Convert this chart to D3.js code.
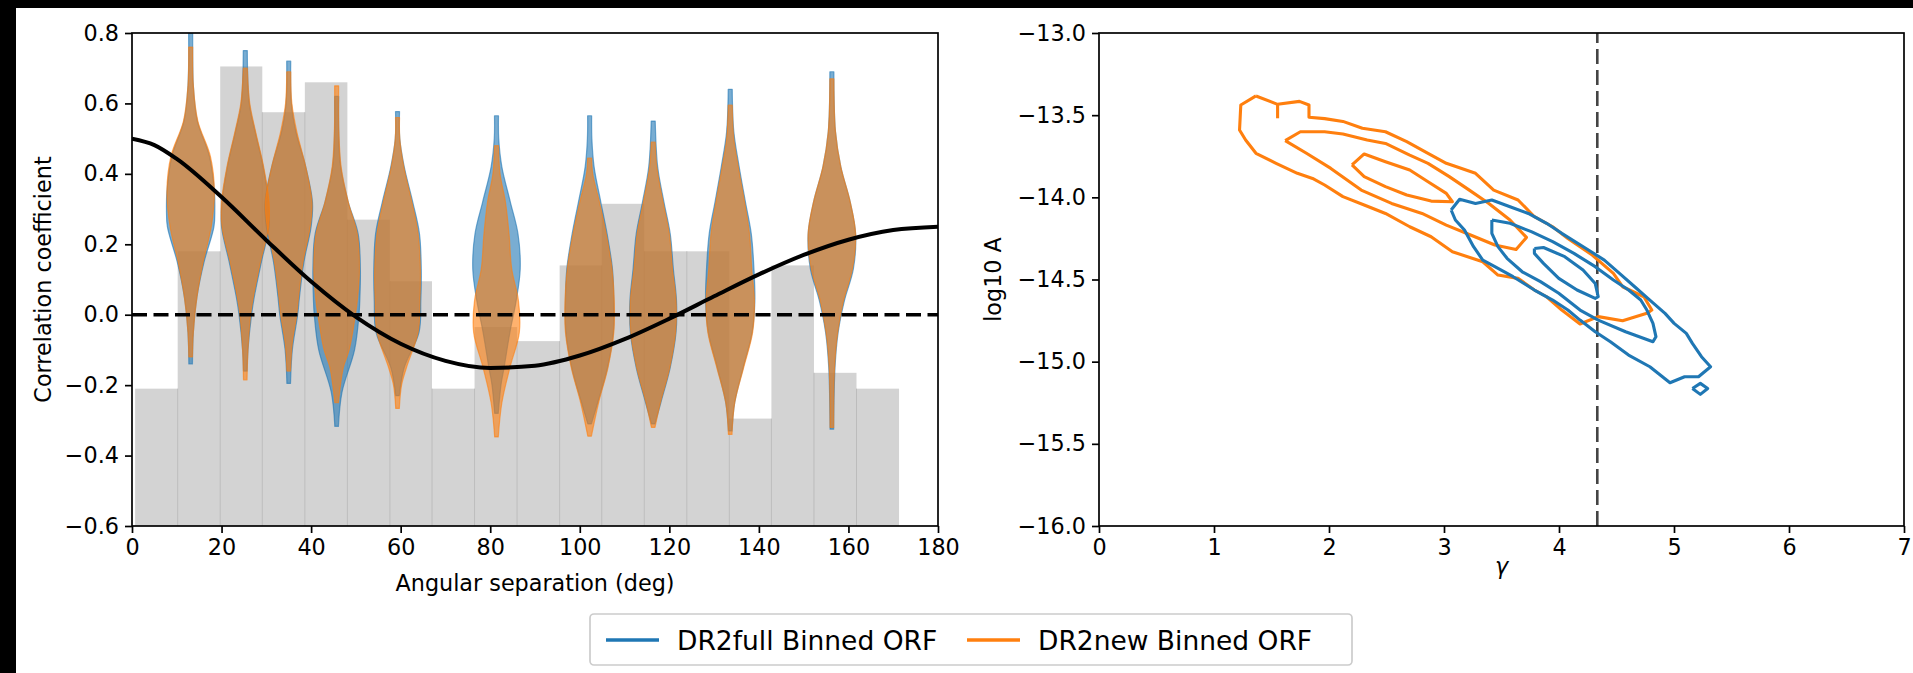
<!DOCTYPE html>
<html><head><meta charset="utf-8">
<script src="https://cdn.jsdelivr.net/npm/d3@7"></script>
<style>
body{margin:0;background:#000;overflow:hidden}
svg{display:block}
text{font-family:"DejaVu Sans",sans-serif;fill:#000}
</style></head>
<body><svg id="c" width="1913" height="673"></svg>
<script>
// ---------------- DATA ----------------
const histEdges = [0.7,10.2,19.7,29.1,38.6,48.1,57.6,67.0,76.5,86.0,95.5,104.9,114.4,123.9,133.4,142.8,152.3,161.8,171.3];
const histTops = [-0.21,0.18,0.705,0.575,0.66,0.27,0.095,-0.21,-0.035,-0.075,0.14,0.315,0.18,0.18,-0.295,0.14,-0.165,-0.21];

const violinPos = [13.1,25.3,35.0,45.7,59.3,81.4,102.2,116.4,133.6,156.3];
// each profile: [correlation value, half-width in degrees], bottom tip -> top tip
const violinFull = [
 [[-0.14,0.4],[-0.05,0.6],[0.05,1.4],[0.15,3.0],[0.25,5.2],[0.3,5.4],[0.35,5.3],[0.45,4.2],[0.55,1.5],[0.65,0.6],[0.8,0.45]],
 [[-0.16,0.4],[-0.1,0.6],[0.0,1.4],[0.05,2.0],[0.15,3.6],[0.25,5.3],[0.32,5.2],[0.42,4.0],[0.52,2.2],[0.6,0.9],[0.75,0.45]],
 [[-0.195,0.4],[-0.1,0.8],[0.0,2.0],[0.05,2.4],[0.15,3.4],[0.25,5.0],[0.32,5.3],[0.42,3.8],[0.52,1.6],[0.6,0.6],[0.72,0.45]],
 [[-0.317,0.4],[-0.22,1.2],[-0.1,4.0],[0.0,5.0],[0.05,5.2],[0.13,5.3],[0.23,4.8],[0.32,2.6],[0.42,0.9],[0.5,0.5],[0.62,0.45]],
 [[-0.23,0.4],[-0.15,1.5],[-0.05,4.8],[0.04,5.2],[0.13,5.3],[0.23,4.9],[0.32,3.4],[0.42,1.5],[0.5,0.5],[0.577,0.45]],
 [[-0.28,0.4],[-0.2,1.0],[-0.15,1.7],[-0.05,3.0],[0.04,4.4],[0.13,5.3],[0.23,4.8],[0.32,3.1],[0.42,1.2],[0.5,0.5],[0.565,0.45]],
 [[-0.31,0.4],[-0.25,1.8],[-0.15,4.0],[-0.05,5.3],[0.04,5.4],[0.13,5.1],[0.23,3.9],[0.32,2.5],[0.42,1.0],[0.5,0.5],[0.565,0.45]],
 [[-0.31,0.4],[-0.25,1.7],[-0.15,3.8],[-0.05,5.1],[0.04,5.2],[0.13,4.5],[0.23,3.8],[0.32,2.4],[0.42,1.0],[0.55,0.45]],
 [[-0.33,0.4],[-0.25,1.0],[-0.15,2.9],[-0.05,4.9],[0.04,5.5],[0.13,5.3],[0.23,4.7],[0.32,3.4],[0.42,2.0],[0.52,0.8],[0.64,0.45]],
 [[-0.325,0.4],[-0.15,0.7],[-0.05,1.4],[0.04,2.8],[0.13,4.8],[0.23,5.3],[0.32,4.1],[0.42,2.0],[0.52,0.8],[0.69,0.45]]
];
const violinNew = [
 [[-0.12,0.4],[-0.05,0.6],[0.05,1.4],[0.15,2.8],[0.25,4.6],[0.35,5.3],[0.45,4.4],[0.55,1.6],[0.65,0.6],[0.76,0.45]],
 [[-0.185,0.4],[-0.1,0.6],[0.0,1.2],[0.05,1.8],[0.15,3.4],[0.25,5.2],[0.32,5.3],[0.42,4.1],[0.52,2.3],[0.6,1.0],[0.7,0.45]],
 [[-0.16,0.4],[-0.08,0.8],[0.0,1.8],[0.05,2.2],[0.15,3.2],[0.25,4.8],[0.32,5.2],[0.42,3.8],[0.52,1.8],[0.6,0.7],[0.69,0.45]],
 [[-0.25,0.4],[-0.15,1.5],[-0.1,2.8],[0.0,4.2],[0.05,4.7],[0.13,5.1],[0.23,4.6],[0.32,2.6],[0.42,1.0],[0.52,0.5],[0.65,0.45]],
 [[-0.266,0.4],[-0.2,0.9],[-0.15,2.0],[-0.05,4.6],[0.04,5.0],[0.13,5.1],[0.23,4.6],[0.32,3.2],[0.42,1.4],[0.5,0.5],[0.56,0.45]],
 [[-0.347,0.4],[-0.25,1.2],[-0.15,3.0],[-0.05,5.1],[0.04,4.9],[0.13,3.4],[0.23,2.8],[0.32,2.0],[0.4,0.8],[0.48,0.45]],
 [[-0.345,0.4],[-0.25,2.0],[-0.15,4.1],[-0.05,5.4],[0.04,5.5],[0.13,5.0],[0.23,3.7],[0.32,2.2],[0.4,0.7],[0.445,0.45]],
 [[-0.32,0.4],[-0.25,1.6],[-0.15,3.7],[-0.05,5.0],[0.04,5.1],[0.13,4.3],[0.23,3.6],[0.32,2.2],[0.42,0.8],[0.49,0.45]],
 [[-0.34,0.4],[-0.25,1.0],[-0.15,3.0],[-0.05,5.0],[0.04,5.4],[0.13,4.8],[0.23,4.3],[0.32,3.2],[0.42,1.8],[0.5,0.8],[0.595,0.45]],
 [[-0.32,0.4],[-0.15,0.6],[-0.05,1.3],[0.04,2.6],[0.13,4.6],[0.23,5.3],[0.32,4.1],[0.42,2.0],[0.52,0.8],[0.67,0.45]]
];

// Hellings-Downs curve values (deg, correlation)
const hdAngles = [0,5,10,20,30,40,50,60,70,80,90,100,110,120,130,140,150,160,170,180];
const hdValues = [0.5,0.4817,0.4424,0.3341,0.2116,0.0942,-0.0061,-0.0824,-0.1309,-0.1511,-0.1449,-0.1159,-0.0693,-0.0112,0.0522,0.1145,0.1697,0.2130,0.2405,0.25];

const leftXTicks = [0,20,40,60,80,100,120,140,160,180];
const leftYTicks = [-0.6,-0.4,-0.2,0.0,0.2,0.4,0.6,0.8];
const rightXTicks = [0,1,2,3,4,5,6,7];
const rightYTicks = [-16.0,-15.5,-15.0,-14.5,-14.0,-13.5,-13.0];
const gammaRef = 4.333;

// contours [gamma, log10A]
const newOuter = [[1.365,-13.383],[1.553,-13.434],[1.743,-13.416],[1.826,-13.438],[1.826,-13.513],[1.962,-13.521],[2.121,-13.538],[2.290,-13.580],[2.491,-13.601],[2.676,-13.661],[2.861,-13.732],[3.020,-13.793],[3.274,-13.854],[3.432,-13.956],[3.644,-14.016],[3.786,-14.118],[3.945,-14.179],[4.077,-14.250],[4.289,-14.351],[4.473,-14.463],[4.553,-14.544],[4.738,-14.605],[4.807,-14.686],[4.764,-14.706],[4.553,-14.751],[4.341,-14.726],[4.183,-14.771],[4.024,-14.686],[3.892,-14.605],[3.786,-14.564],[3.644,-14.493],[3.469,-14.473],[3.337,-14.392],[3.073,-14.331],[2.888,-14.240],[2.702,-14.179],[2.491,-14.098],[2.306,-14.047],[2.121,-13.996],[1.962,-13.925],[1.857,-13.885],[1.725,-13.854],[1.540,-13.793],[1.365,-13.732],[1.275,-13.651],[1.222,-13.590],[1.233,-13.438],[1.365,-13.383]];
const newSpur = [[1.553,-13.434],[1.553,-13.519]];
const newMid = [[1.619,-13.655],[1.751,-13.601],[1.962,-13.601],[2.121,-13.615],[2.332,-13.651],[2.491,-13.672],[2.702,-13.743],[2.861,-13.793],[3.046,-13.874],[3.220,-13.956],[3.390,-14.037],[3.574,-14.138],[3.717,-14.244],[3.627,-14.317],[3.442,-14.290],[3.231,-14.229],[3.020,-14.169],[2.809,-14.098],[2.544,-14.037],[2.280,-13.956],[2.016,-13.824],[1.804,-13.732],[1.619,-13.655]];
const newInner = [[2.200,-13.803],[2.306,-13.736],[2.491,-13.783],[2.702,-13.834],[2.861,-13.905],[3.020,-13.976],[3.073,-14.027],[2.888,-14.023],[2.676,-13.986],[2.491,-13.935],[2.306,-13.874],[2.200,-13.803]];
const fullOuter = [[3.062,-14.077],[3.136,-14.012],[3.274,-14.037],[3.416,-14.016],[3.574,-14.057],[3.733,-14.098],[3.892,-14.158],[4.024,-14.219],[4.235,-14.311],[4.394,-14.382],[4.526,-14.463],[4.658,-14.544],[4.790,-14.625],[4.922,-14.706],[5.001,-14.767],[5.107,-14.828],[5.160,-14.889],[5.239,-14.970],[5.318,-15.031],[5.213,-15.092],[5.092,-15.092],[4.965,-15.128],[4.790,-15.031],[4.605,-14.960],[4.447,-14.879],[4.315,-14.818],[4.183,-14.747],[4.077,-14.686],[3.945,-14.625],[3.786,-14.564],[3.601,-14.483],[3.442,-14.422],[3.337,-14.382],[3.257,-14.300],[3.178,-14.199],[3.099,-14.138],[3.062,-14.077]];
const fullIsland = [[5.160,-15.163],[5.229,-15.132],[5.293,-15.163],[5.229,-15.199],[5.160,-15.163]];
const fullMid = [[3.416,-14.138],[3.574,-14.158],[3.759,-14.209],[3.945,-14.270],[4.130,-14.341],[4.315,-14.422],[4.473,-14.503],[4.605,-14.564],[4.711,-14.625],[4.764,-14.686],[4.817,-14.767],[4.843,-14.848],[4.817,-14.879],[4.579,-14.818],[4.341,-14.747],[4.183,-14.686],[3.998,-14.584],[3.839,-14.513],[3.680,-14.453],[3.548,-14.371],[3.469,-14.300],[3.416,-14.219],[3.416,-14.138]];
const fullInner = [[3.786,-14.311],[3.865,-14.305],[4.050,-14.361],[4.209,-14.442],[4.315,-14.524],[4.341,-14.605],[4.315,-14.615],[4.157,-14.564],[3.998,-14.493],[3.865,-14.402],[3.786,-14.341],[3.786,-14.311]];

const seriesNames = ["DR2full Binned ORF","DR2new Binned ORF"];
const seriesColors = ["#1f77b4","#ff7f0e"];

// ---------------- DRAW ----------------
const svg = d3.select("#c");
svg.append("rect").attr("x",0).attr("y",0).attr("width",1913).attr("height",673).attr("fill","#000");
svg.append("rect").attr("x",16).attr("y",8).attr("width",1897).attr("height",665).attr("fill","#fff");

const FS = 22.3;
const LFS = 26.5;
const L = {x0:132,x1:938,y0:33,y1:526};
const R = {x0:1099,x1:1904,y0:33,y1:526};

const xL = d3.scaleLinear().domain([0,180]).range([L.x0,L.x1]);
const yL = d3.scaleLinear().domain([-0.6,0.8]).range([L.y1,L.y0]);
const xR = d3.scaleLinear().domain([0,7]).range([R.x0,R.x1]);
const yR = d3.scaleLinear().domain([-16,-13]).range([R.y1,R.y0]);

const defs = svg.append("defs");
defs.append("clipPath").attr("id","clipL").append("rect").attr("x",L.x0).attr("y",L.y0).attr("width",L.x1-L.x0).attr("height",L.y1-L.y0);
defs.append("clipPath").attr("id","clipR").append("rect").attr("x",R.x0).attr("y",R.y0).attr("width",R.x1-R.x0).attr("height",R.y1-R.y0);

const gL = svg.append("g").attr("clip-path","url(#clipL)");
const bars = histTops.map((t,i)=>({a:histEdges[i],b:histEdges[i+1],t}));
gL.selectAll("rect.bar").data(bars).enter().append("rect").attr("class","bar")
  .attr("x",d=>xL(d.a)).attr("width",d=>xL(d.b)-xL(d.a))
  .attr("y",d=>yL(d.t)).attr("height",d=>yL(-0.6)-yL(d.t))
  .attr("fill","#d3d3d3");
gL.selectAll("line.edge").data(histEdges.slice(1,-1)).enter().append("line").attr("class","edge")
  .attr("x1",d=>xL(d)).attr("x2",d=>xL(d))
  .attr("y1",(d,i)=>yL(Math.min(histTops[i],histTops[i+1]))).attr("y2",yL(-0.6))
  .attr("stroke","#bcbcbc").attr("stroke-width",1);

function violinArea(pos){
  return d3.area().curve(d3.curveCatmullRom.alpha(0.5))
    .y(d=>yL(d[0])).x0(d=>xL(pos-d[1])).x1(d=>xL(pos+d[1]));
}
[violinFull, violinNew].forEach((set,si)=>{
  gL.selectAll("path.v"+si).data(set).enter().append("path").attr("class","v"+si)
    .attr("d",(d,i)=>violinArea(violinPos[i])(d))
    .attr("fill",seriesColors[si]).attr("fill-opacity",0.6)
    .attr("stroke",seriesColors[si]).attr("stroke-opacity",0.6).attr("stroke-width",1.2)
    .attr("stroke-linejoin","round");
});

gL.append("line").attr("x1",xL(0)).attr("x2",xL(180)).attr("y1",yL(0)).attr("y2",yL(0))
  .attr("stroke","#000").attr("stroke-width",3.6).attr("stroke-dasharray","15,6.5");
const hd = hdAngles.map((a,i)=>[a,hdValues[i]]);
gL.append("path").attr("d",d3.line().curve(d3.curveMonotoneX).x(d=>xL(d[0])).y(d=>yL(d[1]))(hd))
  .attr("fill","none").attr("stroke","#000").attr("stroke-width",4);

function styleAxis(g){
  g.selectAll("text").style("font-family","DejaVu Sans").style("font-size",FS+"px").attr("fill","#000");
  g.selectAll("line").attr("stroke","#000").attr("stroke-width",1.7);
  g.select(".domain").remove();
}
const fmt1 = d3.format(".1f");
svg.append("g").attr("transform",`translate(0,${L.y1})`)
  .call(d3.axisBottom(xL).tickValues(leftXTicks).tickSize(7).tickPadding(6).tickFormat(d3.format("d"))).call(styleAxis);
svg.append("g").attr("transform",`translate(${L.x0},0)`)
  .call(d3.axisLeft(yL).tickValues(leftYTicks).tickSize(7).tickPadding(6).tickFormat(fmt1)).call(styleAxis);
svg.append("rect").attr("x",L.x0).attr("y",L.y0).attr("width",L.x1-L.x0).attr("height",L.y1-L.y0)
  .attr("fill","none").attr("stroke","#000").attr("stroke-width",1.7);

svg.append("text").attr("x",(L.x0+L.x1)/2).attr("y",591).attr("text-anchor","middle").style("font-size",FS+"px").text("Angular separation (deg)");
svg.append("text").attr("transform",`translate(51,${(L.y0+L.y1)/2}) rotate(-90)`).attr("text-anchor","middle").style("font-size",FS+"px").text("Correlation coefficient");

const gR = svg.append("g").attr("clip-path","url(#clipR)");
gR.append("line").attr("x1",xR(gammaRef)).attr("x2",xR(gammaRef)).attr("y1",yR(-16)).attr("y2",yR(-13))
  .attr("stroke","#444").attr("stroke-width",2.6).attr("stroke-dasharray","15,6");
const cl = d3.line().x(d=>xR(d[0])).y(d=>yR(d[1]));
[newOuter,newMid,newInner,newSpur].forEach(c=>{
  gR.append("path").attr("d",cl(c)).attr("fill","none").attr("stroke",seriesColors[1]).attr("stroke-width",3.1).attr("stroke-linejoin","round");
});
[fullOuter,fullMid,fullInner,fullIsland].forEach(c=>{
  gR.append("path").attr("d",cl(c)).attr("fill","none").attr("stroke",seriesColors[0]).attr("stroke-width",3.1).attr("stroke-linejoin","round");
});

svg.append("g").attr("transform",`translate(0,${R.y1})`)
  .call(d3.axisBottom(xR).tickValues(rightXTicks).tickSize(7).tickPadding(6).tickFormat(d3.format("d"))).call(styleAxis);
svg.append("g").attr("transform",`translate(${R.x0},0)`)
  .call(d3.axisLeft(yR).tickValues(rightYTicks).tickSize(7).tickPadding(6).tickFormat(fmt1)).call(styleAxis);
svg.append("rect").attr("x",R.x0).attr("y",R.y0).attr("width",R.x1-R.x0).attr("height",R.y1-R.y0)
  .attr("fill","none").attr("stroke","#000").attr("stroke-width",1.7);

svg.append("text").attr("x",(R.x0+R.x1)/2).attr("y",574).attr("text-anchor","middle").style("font-size",FS+"px").style("font-style","italic").text("γ");
svg.append("text").attr("transform",`translate(1001,${(R.y0+R.y1)/2}) rotate(-90)`).attr("text-anchor","middle").style("font-size",FS+"px").text("log10 A");

const lg = svg.append("g");
lg.append("rect").attr("x",590).attr("y",614).attr("width",762).attr("height",51).attr("rx",4)
  .attr("fill","#fff").attr("stroke","#cccccc").attr("stroke-width",1.7);
const legX = [606,967];
seriesNames.forEach((n,i)=>{
  lg.append("line").attr("x1",legX[i]).attr("x2",legX[i]+53).attr("y1",640).attr("y2",640)
    .attr("stroke",seriesColors[i]).attr("stroke-width",3.6);
  lg.append("text").attr("x",legX[i]+71).attr("y",649.5).style("font-size",LFS+"px").text(n);
});
</script>
</body></html>
